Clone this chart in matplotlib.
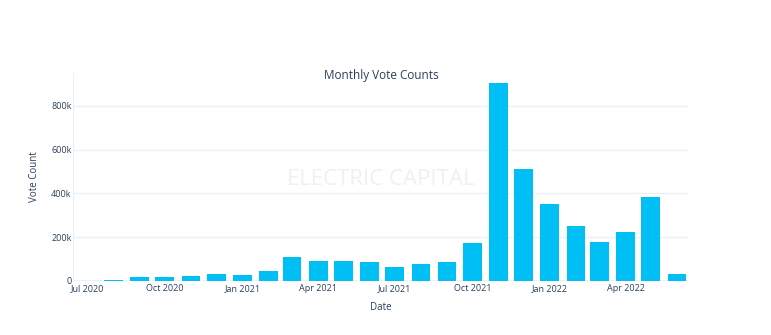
import pandas as pd
import matplotlib
matplotlib.use("Agg")
import matplotlib.pyplot as plt
import matplotlib.dates as mdates
from matplotlib.ticker import FuncFormatter

# Monthly vote counts
mesi = pd.date_range("2020-07-01", "2022-06-01", freq="MS")
voti = [0, 6000, 16000, 17000, 21000, 33000, 27000, 47000,
        110000, 93000, 93000, 85000, 62000, 79000, 86000, 173000,
        905000, 512000, 350000, 250000, 179000, 224000, 383000, 30000]

colore_barre = "#00bff5"
colore_testo = "#2a3f5f"
colore_griglia = "#ebf0f8"

plt.rcParams["font.family"] = ["Open Sans", "DejaVu Sans"]

fig = plt.figure(figsize=(7.71, 3.35), dpi=100)
ax = fig.add_axes([73 / 771, 54 / 335, 615 / 771, 208 / 335])

ax.bar(mesi, voti, width=22.4, color=colore_barre, zorder=3)

# Assi e griglia
ax.set_xlim(mesi[0] - pd.Timedelta(days=17), mesi[-1] + pd.Timedelta(days=13))
ax.set_ylim(0, 950000)
ax.set_yticks([0, 200000, 400000, 600000, 800000])
ax.yaxis.set_major_formatter(FuncFormatter(lambda v, _: "0" if v == 0 else f"{int(v / 1000)}k"))
ax.xaxis.set_major_locator(mdates.MonthLocator(bymonth=[1, 4, 7, 10]))
ax.xaxis.set_major_formatter(mdates.DateFormatter("%b %Y"))
ax.grid(axis="y", color=colore_griglia, linewidth=1, zorder=0)
ax.axhline(0, color=colore_griglia, linewidth=2, zorder=1)

for lato in ["top", "right", "bottom"]:
    ax.spines[lato].set_visible(False)
ax.spines["left"].set_color(colore_griglia)
ax.tick_params(length=0, labelsize=6.5, colors=colore_testo)
ax.tick_params(axis="y", pad=1)
ax.tick_params(axis="x", pad=2)

ax.set_xlabel("Date", fontsize=7, color=colore_testo, labelpad=7)
ax.set_ylabel("Vote Count", fontsize=7, color=colore_testo, labelpad=8)

# Titolo sopra l'area del grafico
fig.text(0.495, 0.776, "Monthly Vote Counts", ha="center", va="center",
         fontsize=8.5, color=colore_testo)

# Watermark
ax.text(0.5, 0.49, "ELECTRIC CAPITAL", transform=ax.transAxes, ha="center", va="center",
        fontsize=16, color="#f0f0f0", zorder=2)

fig.savefig("out.png", dpi=100, facecolor="white")
